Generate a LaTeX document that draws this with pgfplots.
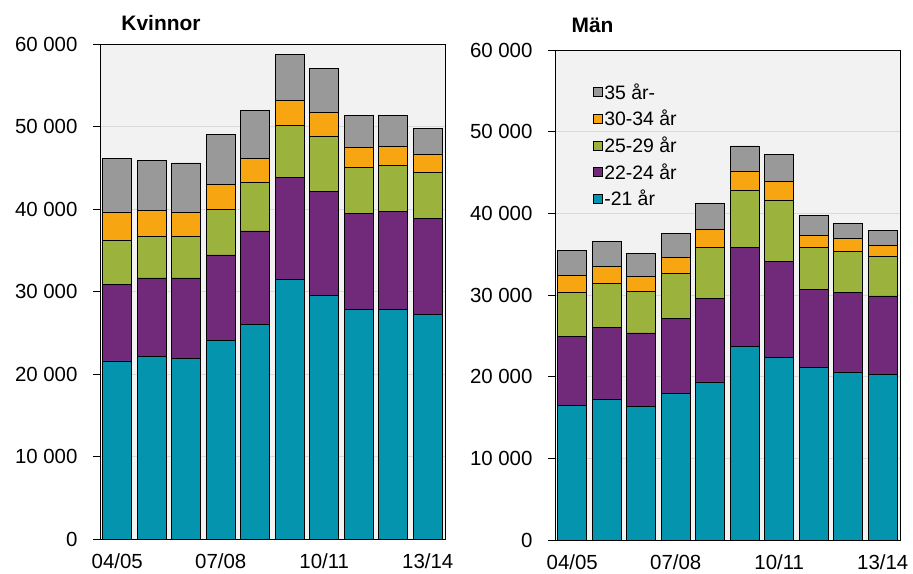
\documentclass[border=0pt]{standalone}
\usepackage{pgfplots}
\pgfplotsset{compat=1.18}
\usepackage{fontspec}
\setmainfont{Liberation Sans}
\definecolor{aA}{RGB}{4,148,174}
\definecolor{aB}{RGB}{113,41,122}
\definecolor{aC}{RGB}{155,178,61}
\definecolor{aD}{RGB}{248,165,18}
\definecolor{aE}{RGB}{153,153,153}
\definecolor{plotbg}{RGB}{242,242,242}

% x a=-21 b=22-24 c=25-29 d=30-34 e=35-
\pgfplotstableread{
x a b c d e
0 21600 9300 5270 3470 6490
1 22140 9510 5040 3150 6090
2 21900 9750 5080 2830 6040
3 24120 10310 5570 3020 6010
4 25980 11360 5930 2860 5810
5 31490 12380 6290 3030 5560
6 29480 12620 6770 2860 5290
7 27840 11600 5560 2420 3950
8 27840 11840 5640 2260 3790
9 27270 11560 5570 2210 3190
}\kvinnor

\pgfplotstableread{
x a b c d e
0 16510 8440 5380 2030 3060
1 17240 8810 5400 2090 3020
2 16390 8970 5090 1870 2810
3 17940 9210 5540 1950 2860
4 19360 10240 6270 2120 3180
5 23730 12050 7100 2320 3060
6 22380 11770 7420 2370 3260
7 21120 9580 5080 1550 2370
8 20590 9740 4970 1630 1830
9 20260 9620 4890 1340 1790
}\man

\pgfplotsset{
  panel/.style={
    scale only axis, width=345bp,
    ybar stacked, bar width=0.84,
    xmin=-0.5, xmax=9.5, ymin=0, ymax=60000,
    xtick={0,3,6,9}, xticklabels={04/05,07/08,10/11,13/14},
    ytick={0,10000,...,60000},
    ytick pos=left,
    scaled y ticks=false,
    /pgf/number format/1000 sep={\ },
    /pgf/number format/assume math mode=true,
    ticklabel style={font=\fontsize{20.5}{24}\selectfont},
    yticklabel style={xshift=-12bp},
    xticklabel style={yshift=-4bp},
    major x tick style={draw=none},
    tick align=outside, major tick length=7bp,
    y tick style={black, line width=1bp},
    ymajorgrids, grid style={color=black!15, line width=1bp},
    axis background/.style={fill=plotbg},
    axis line style={black, line width=0.6bp},
    title style={font=\bfseries\fontsize{21}{25}\selectfont, anchor=base west},
    every axis plot/.append style={draw=black, line width=0.6bp},
    legend image code/.code={\draw[#1, draw=black, line width=0.6bp] (0bp,-4.5bp) rectangle (9bp,4.5bp);},
  }
}

\begin{document}
\begin{tikzpicture}
\useasboundingbox (0,0) rectangle (913bp,574bp);
\begin{axis}[panel, height=495bp, at={(100bp,35bp)}, anchor=south west,
    title=Kvinnor, title style={at={(axis description cs:0.052,1)}, yshift=8bp}]
  \addplot[fill=aA] table[x=x, y=a] {\kvinnor};
  \addplot[fill=aB] table[x=x, y=b] {\kvinnor};
  \addplot[fill=aC] table[x=x, y=c] {\kvinnor};
  \addplot[fill=aD] table[x=x, y=d] {\kvinnor};
  \addplot[fill=aE] table[x=x, y=e] {\kvinnor};
  \draw[black, line width=2bp] (axis description cs:0,0) -- (axis description cs:0,1);
\end{axis}
\begin{axis}[panel, height=490bp, at={(555bp,34bp)}, anchor=south west,
    title=Män, title style={at={(axis description cs:0.038,1)}, yshift=12bp},
    reverse legend,
    legend cell align=left,
    legend style={at={(axis description cs:0.1,0.94)}, anchor=north west,
      draw=none, fill=none, font=\fontsize{19.5}{23}\selectfont, row sep=5.5bp}]
  \addplot[fill=aA] table[x=x, y=a] {\man};
  \addplot[fill=aB] table[x=x, y=b] {\man};
  \addplot[fill=aC] table[x=x, y=c] {\man};
  \addplot[fill=aD] table[x=x, y=d] {\man};
  \addplot[fill=aE] table[x=x, y=e] {\man};
  \legend{-21 år, 22-24 år, 25-29 år, 30-34 år, 35 år-}
  \draw[black, line width=2bp] (axis description cs:0,0) -- (axis description cs:0,1);
\end{axis}
\end{tikzpicture}
\end{document}
